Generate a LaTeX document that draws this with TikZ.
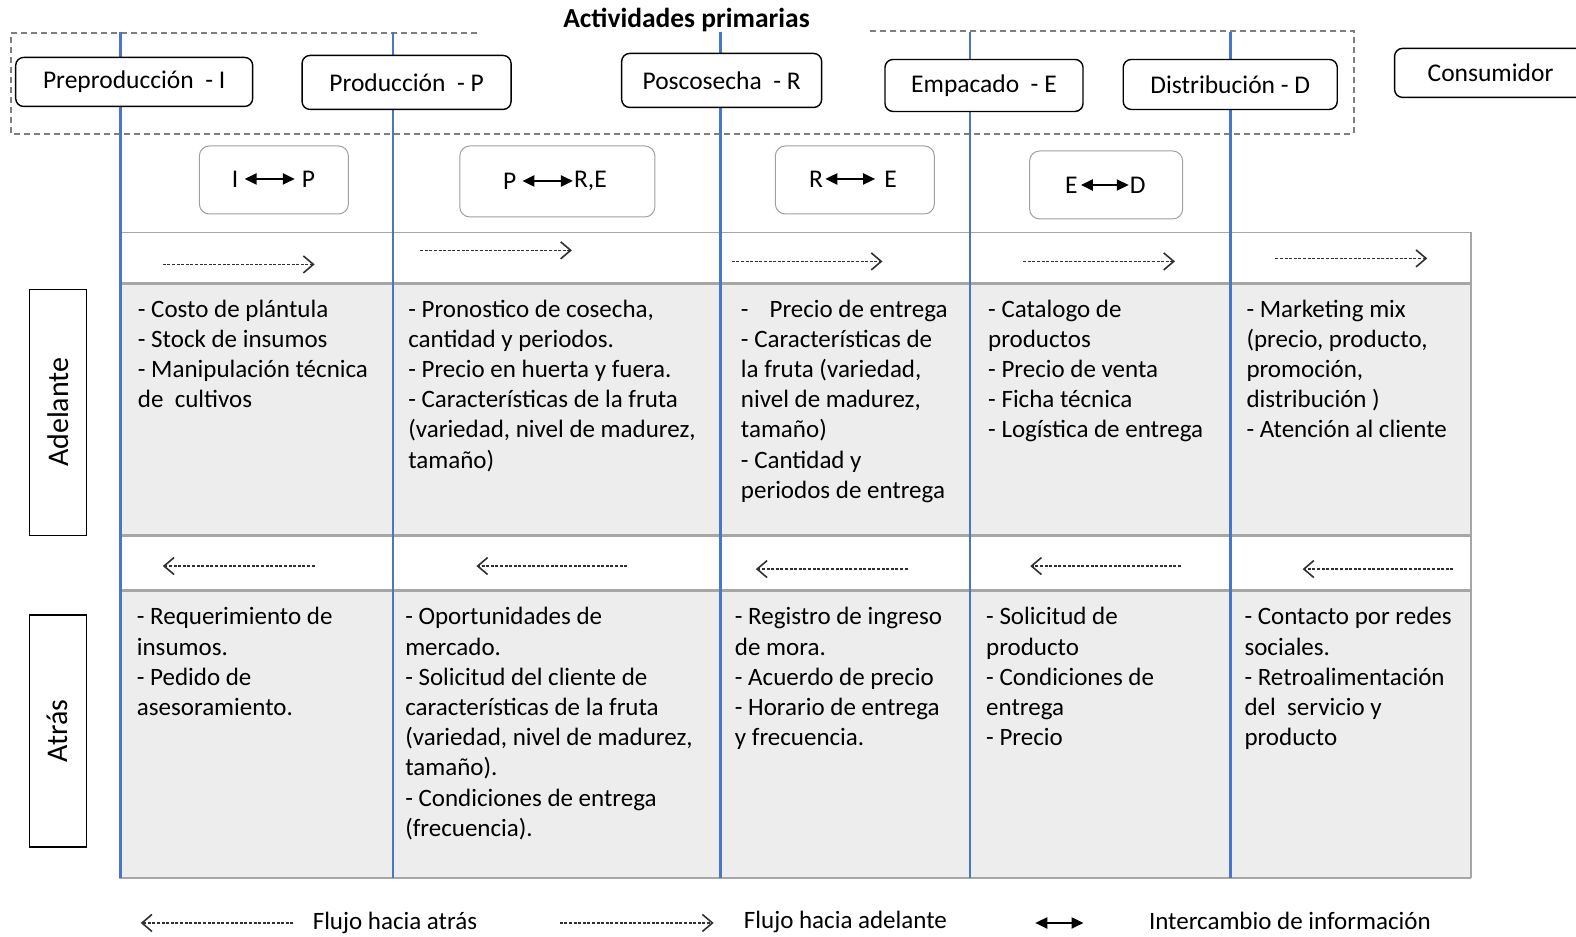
\documentclass[tikz,border=0pt]{standalone}
\usepackage{fontspec}
\setmainfont{Carlito}
\usetikzlibrary{arrows.meta}
\definecolor{chainblue}{HTML}{4A76C8}
\definecolor{gridgray}{HTML}{A6A6A6}
\definecolor{cellgray}{HTML}{EDEDED}
\definecolor{dashgray}{HTML}{7F7F7F}
\definecolor{boxgray}{HTML}{A0A0A0}
\definecolor{flowgray}{HTML}{303030}
\newcommand\cellfont{\fontsize{25}{30.2}\selectfont}
\newcommand\headfont{\fontsize{25.5}{28}\selectfont}
\newcommand\sidefont{\fontsize{30}{32}\selectfont}
\begin{document}
\begin{tikzpicture}[x=1.0051pt,y=-1.0054pt,
  actor/.style={draw=black,line width=1.4pt,rounded corners=8pt,fill=white,inner sep=0pt,font=\headfont},
  xbox/.style={draw=boxgray,line width=1pt,rounded corners=10pt,fill=white,inner sep=0pt},
  letter/.style={inner sep=0pt,font=\headfont},
  cell/.style={anchor=north west,inner sep=0pt,align=left,font=\cellfont,execute at begin node=\strut},
  side/.style={draw=black,line width=1.2pt,minimum width=57pt,inner sep=0pt},
  flow/.style={draw=flowgray,line width=1.5pt,dash pattern=on 3pt off 1.6pt,
    -{Straight Barb[length=10pt,width=17pt,line width=1.6pt]}},
  swap/.style={line width=2.2pt,{Triangle[length=12pt,width=11pt]}-{Triangle[length=12pt,width=11pt]}},
  blueline/.style={draw=chainblue,line width=2.6pt},
  legend/.style={anchor=base west,inner sep=0pt,font=\cellfont}]
\clip (0,0) rectangle (1568,931);
\fill[white] (0,0) rectangle (1568,931);

% table body: shaded content rows
\fill[cellgray] (120,282) rectangle (1464,533);
\fill[cellgray] (120,587) rectangle (1464,873);
\draw[gridgray,line width=1.5pt] (120,231) -- (1464,231);
\draw[gridgray,line width=3pt] (120,282) -- (1464,282);
\draw[gridgray,line width=3pt] (120,533) -- (1464,533);
\draw[gridgray,line width=3pt] (120,587) -- (1464,587);
\draw[gridgray,line width=2pt] (118,873) -- (1464,873);
\draw[gridgray,line width=2pt] (1464,231) -- (1464,873);

% dashed frame of the primary activities
\draw[dashgray,line width=2pt,dash pattern=on 6pt off 4pt]
  (475,33) -- (11,33) -- (11,133) -- (1347,133) -- (1347,31) -- (862,31);

% stage lines
\foreach \xx in {120,391,717,965,1224}
  \draw[blueline] (\xx,32) -- (\xx,873);

\node[font=\fontsize{27.5}{30}\selectfont\bfseries] (title) at (683,20) {Actividades primarias};

% actors of the chain
\node[actor,minimum width=237pt,minimum height=49pt] (pre) at (133.5,81.5) {Preproducción\ \ - I};
\node[actor,minimum width=209pt,minimum height=54pt] (pro) at (404.5,82) {Producción\ \ - P};
\node[actor,minimum width=200pt,minimum height=54pt] (pos) at (718,80) {Poscosecha\ \ - R};
\node[actor,minimum width=198pt,minimum height=52pt] (emp) at (979,85) {Empacado\ \ - E};
\node[actor,minimum width=214pt,minimum height=50pt] (dis) at (1224,84) {Distribución - D};
\node[actor,minimum width=192pt,minimum height=49pt] (con) at (1483,72.5) {Consumidor};

% information exchanges
\node[xbox,minimum width=149pt,minimum height=68pt] (xip) at (272.5,179) {};
\node[letter] (xipl) at (234,178) {I};
\node[letter] (xipr) at (307,178) {P};
\draw[swap,shorten <=6pt,shorten >=7pt] (xipl) -- (xipr);

\node[xbox,minimum width=195pt,minimum height=71pt] (xpre) at (554.5,180.5) {};
\node[letter] (xprel) at (507,180) {P};
\node[letter,anchor=west] (xprer) at (571,180) {R,E};
\draw[swap,shorten <=6pt,shorten >=1pt] (xprel) -- (xprer);

\node[xbox,minimum width=159pt,minimum height=68pt] (xre) at (850.5,179) {};
\node[letter] (xrel) at (812,178) {R};
\node[letter] (xrer) at (886,178) {E};
\draw[swap,shorten <=2pt,shorten >=9pt] (xrel) -- (xrer);

\node[xbox,minimum width=153pt,minimum height=68pt] (xed) at (1100.5,184) {};
\node[letter] (xedl) at (1066,184) {E};
\node[letter,anchor=west] (xedr) at (1124,184) {D};
\draw[swap,shorten <=3pt,shorten >=1pt] (xedl) -- (xedr);

% direction of the flows
\foreach \n/\xa/\xb/\yy in {f1/162/313/263, f2/418/569/249, f3/728/878/260, f4/1018/1169/260, f5/1269/1420/257}{
  \coordinate (\n s) at (\xa,\yy);
  \coordinate (\n e) at (\xb,\yy);
  \draw[flow] (\n s) -- (\n e);
}
\foreach \n/\xa/\xb/\yy in {b1/162/313/563, b2/474/624/563, b3/752/903/566, b4/1025/1175/563, b5/1296/1446/566}{
  \coordinate (\n s) at (\xb,\yy);
  \coordinate (\n e) at (\xa,\yy);
  \draw[flow] (\n s) -- (\n e);
}

% row labels
\node[side,minimum height=246pt] (ade) at (57.5,410) {};
\node[rotate=90,font=\sidefont] (adet) at (57.5,410) {Adelante};
\node[side,minimum height=232pt] (atr) at (57.5,727) {};
\node[rotate=90,font=\sidefont] (atrt) at (57.5,727) {Atrás};

% forward flow contents
\node[cell] (a1) at (137,298) {- Costo de plántula\\- Stock de insumos\\- Manipulación técnica\\de\ \ cultivos};
\node[cell] (a2) at (406,298) {- Pronostico de cosecha,\\cantidad y periodos.\\- Precio en huerta y fuera.\\- Características de la fruta\\(variedad, nivel de madurez,\\tamaño)};
\node[cell] (a3) at (737,298) {-\hspace{21pt}Precio de entrega\\- Características de\\la fruta (variedad,\\nivel de madurez,\\tamaño)\\- Cantidad y\\periodos de entrega};
\node[cell] (a4) at (983,298) {- Catalogo de\\productos\\- Precio de venta\\- Ficha técnica\\- Logística de entrega};
\node[cell] (a5) at (1240,298) {- Marketing mix\\(precio, producto,\\promoción,\\distribución )\\- Atención al cliente};

% backward flow contents
\node[cell] (r1) at (136,604) {- Requerimiento de\\insumos.\\- Pedido de\\asesoramiento.};
\node[cell] (r2) at (403,604) {- Oportunidades de\\mercado.\\- Solicitud del cliente de\\características de la fruta\\(variedad, nivel de madurez,\\tamaño).\\- Condiciones de entrega\\(frecuencia).};
\node[cell] (r3) at (731,604) {- Registro de ingreso\\de mora.\\- Acuerdo de precio\\- Horario de entrega\\y frecuencia.};
\node[cell] (r4) at (981,604) {- Solicitud de\\producto\\- Condiciones de\\entrega\\- Precio};
\node[cell] (r5) at (1238,604) {- Contacto por redes\\sociales.\\- Retroalimentación\\del\ \ servicio y\\producto};

% legend
\coordinate (lbs) at (292,918);
\coordinate (lbe) at (140,918);
\draw[flow] (lbs) -- (lbe);
\node[legend] (lbt) at (311,924) {Flujo hacia atrás};
\coordinate (lfs) at (557,918);
\coordinate (lfe) at (710,918);
\draw[flow] (lfs) -- (lfe);
\node[legend] (lft) at (740,923) {Flujo hacia adelante};
\coordinate (lxs) at (1030,918);
\coordinate (lxe) at (1078,918);
\draw[swap] (lxs) -- (lxe);
\node[legend] (lxt) at (1143,924) {Intercambio de información};
\end{tikzpicture}
\end{document}
